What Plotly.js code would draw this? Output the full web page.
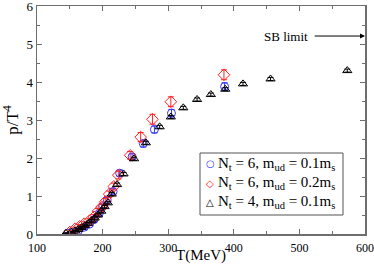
<!DOCTYPE html>
<html><head><meta charset="utf-8">
<script src="https://cdn.plot.ly/plotly-3.0.1.min.js"></script>
<style>html,body{margin:0;padding:0;background:#fff}#c{width:374px;height:264px}</style>
</head><body><div id="c"></div>
<script>
// Nt = 6, m_ud = 0.1 m_s (blue circles)
const T_nt6a = [147, 156, 163, 172, 180, 187, 195, 200, 207, 216, 226, 245, 262, 279, 305, 386];
const P_nt6a = [0.02, 0.05, 0.09, 0.18, 0.26, 0.38, 0.55, 0.72, 0.9, 1.12, 1.6, 2.03, 2.38, 2.75, 3.18, 3.88];
const E_nt6a = [0.02, 0.03, 0.03, 0.04, 0.04, 0.05, 0.05, 0.06, 0.06, 0.07, 0.08, 0.08, 0.09, 0.09, 0.1, 0.1];
// Nt = 6, m_ud = 0.2 m_s (red diamonds)
const T_nt6b = [150, 158, 165, 172, 180, 187, 193, 199, 204, 210, 217, 224, 242, 258, 276, 304, 385];
const P_nt6b = [0.05, 0.14, 0.2, 0.27, 0.35, 0.45, 0.6, 0.72, 0.85, 1.05, 1.25, 1.55, 2.07, 2.55, 3.02, 3.48, 4.19];
const E_nt6b = [0.03, 0.04, 0.05, 0.05, 0.06, 0.06, 0.07, 0.07, 0.08, 0.08, 0.09, 0.1, 0.1, 0.12, 0.13, 0.13, 0.13];
// Nt = 4, m_ud = 0.1 m_s (black triangles)
const T_nt4 = [144, 152, 158, 163, 168, 173, 178, 183, 188, 193, 198, 203, 208, 214, 222, 232, 248, 266, 287, 304, 323, 344, 365, 387, 414, 456, 573];
const P_nt4 = [0.02, 0.05, 0.08, 0.12, 0.17, 0.22, 0.28, 0.35, 0.42, 0.5, 0.6, 0.72, 0.82, 1.05, 1.3, 1.58, 1.98, 2.4, 2.82, 3.08, 3.32, 3.54, 3.67, 3.81, 3.95, 4.08, 4.3];
const E_nt4 = [0.01, 0.01, 0.01, 0.02, 0.02, 0.02, 0.02, 0.03, 0.03, 0.03, 0.03, 0.03, 0.03, 0.04, 0.04, 0.04, 0.04, 0.04, 0.04, 0.04, 0.04, 0.04, 0.04, 0.04, 0.04, 0.04, 0.04];
const names = ['N<sub>t</sub> = 6, m<sub>ud</sub> = 0.1m<sub>s</sub>', 'N<sub>t</sub> = 6, m<sub>ud</sub> = 0.2m<sub>s</sub>', 'N<sub>t</sub> = 4, m<sub>ud</sub> = 0.1m<sub>s</sub>'];
const legendGlyphs = ['○', '◇', '△'];
const colors = ['#3333ff', '#ff2222', '#000000'];
const SB = 5.21;

const font = '"Liberation Serif", serif';
function tr(x, y, e, name, sym, col, size) {
  return {x: x, y: y, name: name, type: 'scatter', mode: 'markers', showlegend: false,
    marker: {symbol: sym, size: size, color: col, line: {color: col, width: 1}},
    error_y: {type: 'data', array: e, visible: true, color: col, thickness: 1, width: 3}};
}
const data = [
  tr(T_nt6a, P_nt6a, E_nt6a, names[0], 'circle-open', colors[0], 8),
  tr(T_nt6b, P_nt6b, E_nt6b, names[1], 'diamond-open', colors[1], 9),
  tr(T_nt4, P_nt4, E_nt4, names[2], 'triangle-up-open', colors[2], 8)
];
const axc = '#6e6e6e';
const M = {l: 37, r: 9, t: 6, b: 30};
const W = 374, H = 264;
const pw = W - M.l - M.r, ph = H - M.t - M.b;
const px = v => (v - M.l) / pw;          // pixel x -> paper
const py = v => (H - M.b - v) / ph;      // pixel y -> paper

const annotations = [
  {x: 480, y: SB, xref: 'x', yref: 'y', text: 'SB limit', showarrow: false,
    font: {family: font, size: 13}},
  {x: 600, y: SB, xref: 'x', yref: 'y', ax: 521, ay: SB, axref: 'x', ayref: 'y',
    text: '', showarrow: true, arrowhead: 2, arrowsize: 1, arrowwidth: 1, arrowcolor: '#000'}
];
const rowY = [164, 183, 202];
names.forEach((n, i) => {
  annotations.push({xref: 'paper', yref: 'paper', x: px(210), y: py(rowY[i]), text: legendGlyphs[i],
    showarrow: false, xanchor: 'center', yanchor: 'middle',
    font: {family: 'DejaVu Sans', size: 10, color: colors[i]}});
  annotations.push({xref: 'paper', yref: 'paper', x: px(216), y: py(rowY[i]), text: n,
    showarrow: false, xanchor: 'left', yanchor: 'middle',
    font: {family: font, size: 15, color: '#000'}});
});

const layout = {
  width: W, height: H,
  margin: M,
  paper_bgcolor: '#fff', plot_bgcolor: '#fff',
  font: {family: font, color: '#000', size: 12},
  showlegend: false,
  xaxis: {range: [100, 600], dtick: 100, tick0: 0, showgrid: false, zeroline: false,
    showline: true, linecolor: axc, linewidth: 1.5, mirror: 'ticks',
    ticks: 'inside', ticklen: 5, tickcolor: axc, tickwidth: 1, ticklabeloverflow: 'allow',
    ticklabelstandoff: 2,
    minor: {dtick: 50, ticks: 'inside', ticklen: 3, tickcolor: axc, showgrid: false},
    tickfont: {family: font, size: 12},
    title: {text: 'T(MeV)', font: {family: font, size: 15}, standoff: 5}},
  yaxis: {range: [0, 6], dtick: 1, showgrid: false, zeroline: false,
    showline: true, linecolor: axc, linewidth: 1.5, mirror: 'ticks',
    ticks: 'inside', ticklen: 5, tickcolor: axc, tickwidth: 1, ticklabeloverflow: 'allow',
    minor: {dtick: 0.5, ticks: 'inside', ticklen: 3, tickcolor: axc, showgrid: false},
    tickfont: {family: font, size: 13},
    title: {text: 'p/T<sup>4</sup>', font: {family: font, size: 17}, standoff: 6}},
  shapes: [
    {type: 'rect', xref: 'paper', yref: 'paper', x0: px(200), x1: px(343), y0: py(215), y1: py(153),
      line: {color: '#555', width: 1}, fillcolor: '#fff', layer: 'above'}
  ],
  annotations: annotations
};
Plotly.newPlot('c', data, layout, {staticPlot: true, displayModeBar: false});
</script></body></html>
